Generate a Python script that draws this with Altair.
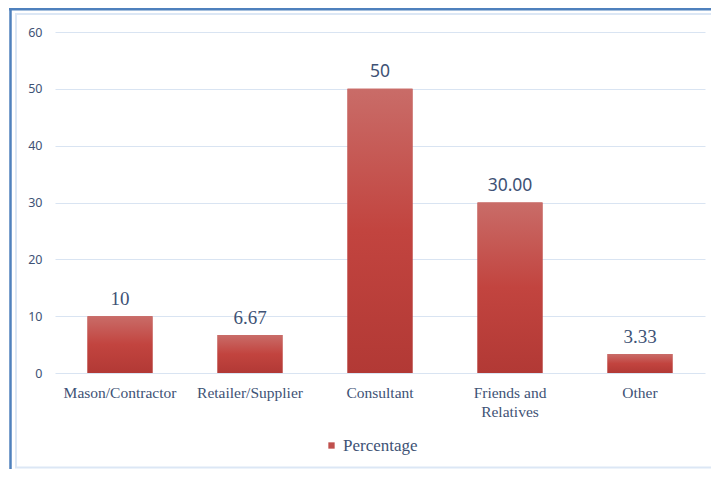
import altair as alt
import pandas as pd

categories = ["Mason/Contractor", "Retailer/Supplier", "Consultant", "Friends and Relatives", "Other"]
values = [10, 6.67, 50, 30.00, 3.33]
value_labels = ["10", "6.67", "50", "30.00", "3.33"]
series_name = "Percentage"
y_ticks = [0, 10, 20, 30, 40, 50, 60]
sans_label_cats = ["Consultant", "Friends and Relatives"]

df = pd.DataFrame({
    "cat": categories,
    "val": values,
    "lab": value_labels,
    "series": [series_name] * len(categories),
})

TXT = "#3E5275"

x = alt.X(
    "cat:N", sort=categories,
    scale=alt.Scale(paddingInner=0.5, paddingOuter=0.25),
    axis=alt.Axis(
        title=None, labelAngle=0, labelFont="Liberation Serif", labelFontSize=15.5,
        labelColor=TXT, labelPadding=12, domain=False, ticks=False, labelLineHeight=19,
        labelExpr="datum.label == 'Friends and Relatives' ? ['Friends and', 'Relatives'] : datum.label",
    ),
)
y = alt.Y(
    "val:Q",
    scale=alt.Scale(domain=[0, 60], nice=False),
    axis=alt.Axis(
        title=None, values=y_ticks, domain=False, ticks=False, labelFont="Noto Sans",
        labelFontSize=12.5, labelColor=TXT, labelPadding=13, gridColor="#D9E4F2", gridWidth=1,
    ),
)

base = alt.Chart(df)

bars_legend = base.mark_bar().encode(
    x=x, y=y,
    color=alt.Color(
        "series:N", scale=alt.Scale(range=["#C0504D"]),
        legend=alt.Legend(
            title=None, orient="none", legendX=268, legendY=405, padding=0,
            labelFont="Liberation Serif", labelFontSize=17, labelColor=TXT,
            symbolType="square", symbolSize=40, symbolStrokeWidth=0, labelOffset=3,
        ),
    ),
)

grad = alt.Gradient(
    gradient="linear",
    stops=[
        alt.GradientStop(color="#C96C68", offset=0),
        alt.GradientStop(color="#C2443F", offset=0.5),
        alt.GradientStop(color="#B23935", offset=1),
    ],
    x1=0, x2=0, y1=0, y2=1,
)
bars_grad = base.mark_bar(color=grad).encode(x=x, y=y)

in_sans = alt.FieldOneOfPredicate(field="cat", oneOf=sans_label_cats)
text_serif = base.transform_filter(~in_sans).mark_text(
    baseline="bottom", dy=-7, font="Liberation Serif", fontSize=19, color=TXT
).encode(x=x, y=y, text="lab:N")
text_sans = base.transform_filter(in_sans).mark_text(
    baseline="bottom", dy=-8, font="Noto Sans", fontSize=17.5, color=TXT
).encode(x=x, y=y, text="lab:N")

one = alt.Chart(pd.DataFrame({"a": [0]}))
outer_left = one.mark_rule(color="#4F81BD", strokeWidth=2.5).encode(
    x=alt.value(-44.5), y=alt.value(-24), y2=alt.value(440))
outer_top = one.mark_rule(color="#4F81BD", strokeWidth=2.5).encode(
    x=alt.value(-46), x2=alt.value(660), y=alt.value(-22.8))
inner_left = one.mark_rule(color="#DCE7F5", strokeWidth=2).encode(
    x=alt.value(-39), y=alt.value(-18), y2=alt.value(436))
inner_top = one.mark_rule(color="#DCE7F5", strokeWidth=2).encode(
    x=alt.value(-40), x2=alt.value(660), y=alt.value(-18))
inner_bottom = one.mark_rule(color="#DCE7F5", strokeWidth=2).encode(
    x=alt.value(-40), x2=alt.value(660), y=alt.value(435.5))

chart = alt.layer(
    outer_left, outer_top, inner_left, inner_top, inner_bottom,
    bars_legend, bars_grad, text_serif, text_sans,
).properties(
    width=650, height=341,
    autosize=alt.AutoSizeParams(type="none"),
    padding={"left": 47, "top": 24, "right": 6, "bottom": 96},
    background="white",
).configure_view(stroke=None)

chart.save("out.html", embed_options={"renderer": "svg", "actions": False})
